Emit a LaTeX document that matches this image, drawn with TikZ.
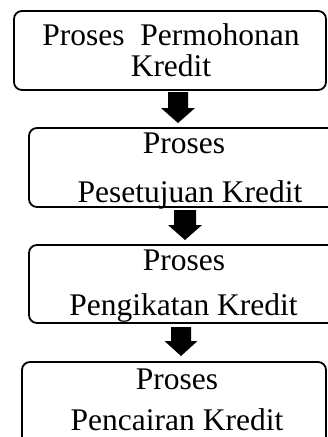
\documentclass[tikz,border=0pt]{standalone}
\usepackage{fontspec}
\setmainfont{Liberation Serif}
\begin{document}
\begin{tikzpicture}[x=1pt,y=1pt,
  box/.style={draw=black, line width=1.8pt, rounded corners=8pt, inner sep=0pt, fill=none},
  lbl/.style={anchor=base, inner sep=0pt, font=\fontsize{31.5}{36}\selectfont},
  arr/.style={fill=black}]
\useasboundingbox (0,0) rectangle (328,-437);
% boxes
\node[box, minimum width=312pt, minimum height=79pt] (b1) at (170,-50.5) {};
\node[box, minimum width=316pt, minimum height=79pt] (b2) at (187,-167.5) {};
\node[box, minimum width=316pt, minimum height=78pt] (b3) at (187,-284) {};
\node[box, minimum width=304pt, minimum height=98pt] (b4) at (174,-411) {};
% texts
\node[lbl] (t1a) at (171,-45) {Proses\ \ Permohonan};
\node[lbl] (t1b) at (171,-76) {Kredit};
\node[lbl] (t2a) at (184,-153) {Proses};
\node[lbl] (t2b) at (190,-202) {Pesetujuan Kredit};
\node[lbl] (t3a) at (184,-270) {Proses};
\node[lbl] (t3b) at (183.5,-315) {Pengikatan Kredit};
\node[lbl] (t4a) at (177,-389) {Proses};
\node[lbl] (t4b) at (177,-430) {Pencairan Kredit};
% block arrows between boxes
\coordinate (a1) at (178,-92);  \coordinate (a1t) at (178,-123);
\coordinate (a2) at (185,-210); \coordinate (a2t) at (185,-240);
\coordinate (a3) at (181,-327); \coordinate (a3t) at (181,-356);
\fill[arr] (a1) ++(-10,0) -- ++(0,-16) -- ++(-7,0) -- (a1t) -- ++(17,15) -- ++(-7,0) -- ++(0,16) -- cycle;
\fill[arr] (a2) ++(-11,0) -- ++(0,-15) -- ++(-6,0) -- (a2t) -- ++(17,15) -- ++(-6,0) -- ++(0,15) -- cycle;
\fill[arr] (a3) ++(-10,0) -- ++(0,-14) -- ++(-6.5,0) -- (a3t) -- ++(16.5,15) -- ++(-6.5,0) -- ++(0,14) -- cycle;
\end{tikzpicture}
\end{document}
